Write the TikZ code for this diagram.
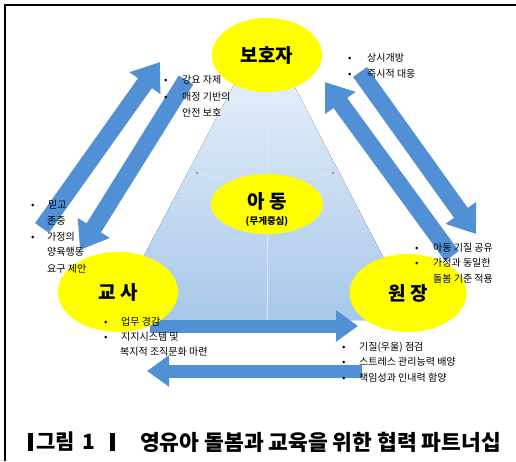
\documentclass[tikz,border=0pt]{standalone}
\usepackage{fontspec}
\setmainfont{Noto Sans CJK KR}
\usetikzlibrary{shapes.geometric,arrows.meta}
\definecolor{ayel}{RGB}{255,255,0}
\definecolor{abl}{RGB}{82,144,214}
\definecolor{tri}{RGB}{168,200,234}
\definecolor{trl}{RGB}{240,246,252}
\tikzset{
  role/.style={ellipse, fill=ayel, inner sep=0pt, font=\bfseries\fontsize{19}{19}\selectfont},
  note/.style={anchor=west, inner sep=0pt, font=\fontsize{10}{11}\selectfont},
  fatdiag/.style={line width=17pt, draw=abl, -{Triangle[length=26pt,width=36pt]}},
  fathor/.style={line width=13pt, draw=abl, -{Triangle[length=22pt,width=30pt]}},
  capbar/.style={fill=black, draw=none},
}
\newcommand{\bul}{\makebox[17pt][l]{•}}
\begin{document}
\begin{tikzpicture}[x=1pt,y=-1pt]
\useasboundingbox (0,0) rectangle (516,461);
% frame
\draw[line width=2.5pt] (5,461) -- (5,5) -- (516,5);
% pyramid
\fill[top color=trl, bottom color=tri] (264,28) -- (416,320) -- (110,320) -- cycle;
\coordinate (pc) at (267,188);
\coordinate (pl) at (197,173);
\coordinate (pr) at (333,173);
\draw[white!60!tri, line width=0.6pt] (267,92) -- (267,320);
\draw[white!60!tri, line width=0.6pt] (pl) -- (pc) -- (pr);
\fill[tri!80!black] (pl) circle (1.3pt) (pr) circle (1.3pt);
% arrow end points
\coordinate (lo1) at (42,228);  \coordinate (lo2) at (160,62);
\coordinate (li1) at (186,80);  \coordinate (li2) at (80,250);
\coordinate (ri1) at (452,256); \coordinate (ri2) at (325,82);
\coordinate (ro1) at (360,72);  \coordinate (ro2) at (476,234);
\coordinate (bt1) at (150,326); \coordinate (bt2) at (358,326);
\coordinate (bb1) at (362,371); \coordinate (bb2) at (147,371);
\draw[fatdiag] (lo1) -- (lo2);
\draw[fatdiag] (li1) -- (li2);
\draw[fatdiag] (ri1) -- (ri2);
\draw[fatdiag] (ro1) -- (ro2);
\draw[fathor] (bt1) -- (bt2);
\draw[fathor] (bb1) -- (bb2);
% ellipses
\node[role, minimum width=110pt, minimum height=74pt] (par) at (267,55) {보호자};
\node[role, minimum width=120pt, minimum height=80pt] (tea) at (118,292) {교 사};
\node[role, minimum width=117pt, minimum height=78pt] (dir) at (408,293) {원 장};
\node[ellipse, fill=ayel, inner sep=0pt, minimum width=112pt, minimum height=60pt] (chi) at (267,204) {};
\node[inner sep=0pt, font=\bfseries\fontsize{19}{19}\selectfont] (chl) at (267,201) {아 동};
\node[inner sep=0pt, font=\bfseries\fontsize{9.5}{9.5}\selectfont] (chs) at (267,221) {(무게중심)};
% notes near parent
\node[note] (n1) at (164,80) {\makebox[18pt][l]{•}강요 자제};
\node[note] (n2) at (164,97) {\makebox[18pt][l]{•}애정 기반의};
\node[note] (n3) at (182,113) {안전 보호};
\node[note] (n4) at (348,58) {\makebox[19pt][l]{•}상시개방};
\node[note] (n5) at (348,74) {\makebox[19pt][l]{•}즉시적 대응};
% notes near teacher (left)
\node[note] (n6) at (31,205) {\makebox[17pt][l]{•}믿고};
\node[note] (n7) at (47,221) {존중};
\node[note] (n8) at (31,237) {\makebox[16pt][l]{•}가정의};
\node[note] (n9) at (47,252) {양육행동};
\node[note] (n10) at (47,269) {요구 제안};
% notes near director (right)
\node[note] (n11) at (415,248) {\makebox[18pt][l]{•}아동 기질 공유};
\node[note] (n12) at (415,263) {\makebox[18pt][l]{•}가정과 동일한};
\node[note] (n13) at (433,279) {돌봄 기준 적용};
% notes below teacher
\node[note] (n14) at (104,322) {\bul 업무 경감};
\node[note] (n15) at (104,337) {\bul 지지시스템 및};
\node[note] (n16) at (120,352) {복지적 조직문화 마련};
% notes below director
\node[note] (n17) at (342,347) {\bul 기질(우울) 점검};
\node[note] (n18) at (342,362) {\bul 스트레스 관리능력 배양};
\node[note] (n19) at (342,378) {\bul 책임성과 인내력 함양};
% caption
\fill[capbar] (28,433) rectangle (33,451);
\node[anchor=west, inner sep=0pt, font=\bfseries\fontsize{21}{21}\selectfont] (capa) at (36,442) {그림\hspace{8pt}1};
\fill[capbar] (110,433) rectangle (115,451);
\node[anchor=west, inner sep=0pt, font=\bfseries\fontsize{21.5}{21.5}\selectfont] (capb) at (140,442) {영유아 돌봄과 교육을 위한 협력 파트너십};
\end{tikzpicture}
\end{document}
